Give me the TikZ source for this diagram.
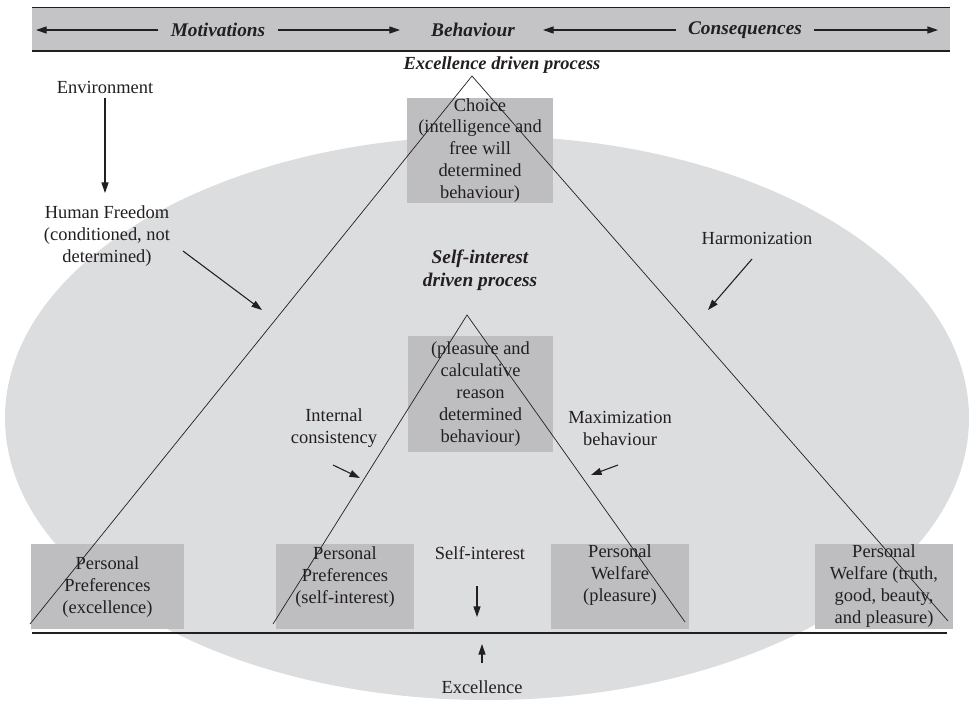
\documentclass[tikz,border=0pt]{standalone}
\usepackage{fontspec}
\setmainfont{Liberation Serif}
\usetikzlibrary{positioning,arrows.meta}
\definecolor{bargray}{HTML}{C4C4C6}
\definecolor{ovalgray}{HTML}{DCDDDF}
\definecolor{boxgray}{HTML}{BEBEC1}
\definecolor{ink}{HTML}{231F20}
\tikzset{
  plain text/.style={font=\fontsize{10.5}{12.5}\selectfont, align=center, text=ink, inner sep=0pt},
  head text/.style={font=\fontsize{11}{13}\selectfont\bfseries\itshape, align=center, text=ink, inner sep=0pt},
  grey box/.style={fill=boxgray, inner sep=0pt, minimum height=1.7cm},
  pointer/.style={-{Triangle[length=6pt,width=4pt]}, draw=ink, fill=ink, semithick},
}

\begin{document}
\begin{tikzpicture}[x=0.02cm, y=-0.02cm]
  \useasboundingbox (0,0) rectangle (969,701);

  % background oval
  \fill[ovalgray] (487,418) ellipse [x radius=482, y radius=282];

  % top bar
  \fill[bargray] (32,7) rectangle (950,51);
  \draw[ink, thin] (32,7) -- (950,7);
  \draw[ink, thick] (32,51) -- (950,51);
  \node[head text] (mot) at (218,30) {Motivations};
  \node[head text] (beh) at (473,30) {Behaviour};
  \node[head text] (con) at (745,30) {Consequences};
  \coordinate (barL) at (36,30);
  \coordinate (barR) at (938,30);
  \coordinate (behL) at (400,30);
  \coordinate (behR) at (543,30);
  \draw[pointer] (mot.west) ++(-12,0) coordinate (m1) -- (barL);
  \draw[pointer] (mot.east) ++(12,0) coordinate (m2) -- (behL);
  \draw[pointer] (con.west) ++(-12,0) coordinate (c1) -- (behR);
  \draw[pointer] (con.east) ++(12,0) coordinate (c2) -- (barR);

  % process labels
  \node[head text, font=\fontsize{10.5}{12.5}\selectfont\bfseries\itshape] (exc) at (502,65) {Excellence driven process};
  \node[head text] (self) at (480,270) {Self-interest\\driven process};

  % grey boxes
  \node[grey box, minimum width=2.92cm, minimum height=2.1cm] (choice) at (480,150.5) {};
  \node[plain text] at (choice) {Choice\\(intelligence and\\free will\\determined\\behaviour)};
  \node[grey box, minimum width=2.9cm, minimum height=2.32cm] (pleas) at (480.5,394) {};
  \node[plain text] at (pleas) {(pleasure and\\calculative\\reason\\determined\\behaviour)};
  \node[grey box, minimum width=3.06cm] (ppexc) at (107.5,586.5) {};
  \node[plain text] at (107.5,587) {Personal\\Preferences\\(excellence)};
  \node[grey box, minimum width=2.76cm] (ppself) at (345,586.5) {};
  \node[plain text] at (345,577) {Personal\\Preferences\\(self-interest)};
  \node[grey box, minimum width=2.76cm] (pwpl) at (620,586.5) {};
  \node[plain text] at (620,575) {Personal\\Welfare\\(pleasure)};
  \node[grey box, minimum width=2.76cm] (pwall) at (884,586.5) {};
  \node[plain text] at (884,586) {Personal\\Welfare (truth,\\good, beauty,\\and pleasure)};

  % triangles
  \draw[ink, thin] (30,624) -- (472,76) -- (948,621);
  \draw[ink, thin] (273,624) -- (467,315) -- (685,622);

  % base line
  \draw[ink, semithick] (32,633) -- (947,633);

  % side labels
  \node[plain text] (env) at (105,87) {Environment};
  \node[plain text] (free) at (107,236) {Human Freedom\\(conditioned, not\\determined)};
  \node[plain text] (harm) at (757,238) {Harmonization};
  \node[plain text] (cons) at (334,428) {Internal\\consistency};
  \node[plain text] (maxi) at (620,428) {Maximization\\behaviour};
  \node[plain text] (sint) at (480,553) {Self-interest};
  \node[plain text] (xcel) at (482,687) {Excellence};

  \coordinate (env out) at (105,98);
  \coordinate (env in) at (105,193);
  \coordinate (free out) at (183,251);
  \coordinate (free in) at (262,310);
  \coordinate (harm out) at (752,259);
  \coordinate (harm in) at (708,310);
  \coordinate (cons out) at (333,465);
  \coordinate (cons in) at (360,478);
  \coordinate (maxi out) at (618,465);
  \coordinate (maxi in) at (591,475);
  \coordinate (sint out) at (477,586);
  \coordinate (sint in) at (477,617);
  \coordinate (xcel out) at (482,663);
  \coordinate (xcel in) at (482,644);

  \draw[pointer] (env out) -- (env in);
  \draw[pointer] (free out) -- (free in);
  \draw[pointer] (harm out) -- (harm in);
  \draw[pointer] (cons out) -- (cons in);
  \draw[pointer] (maxi out) -- (maxi in);
  \draw[pointer] (sint out) -- (sint in);
  \draw[pointer] (xcel out) -- (xcel in);
\end{tikzpicture}
\end{document}
